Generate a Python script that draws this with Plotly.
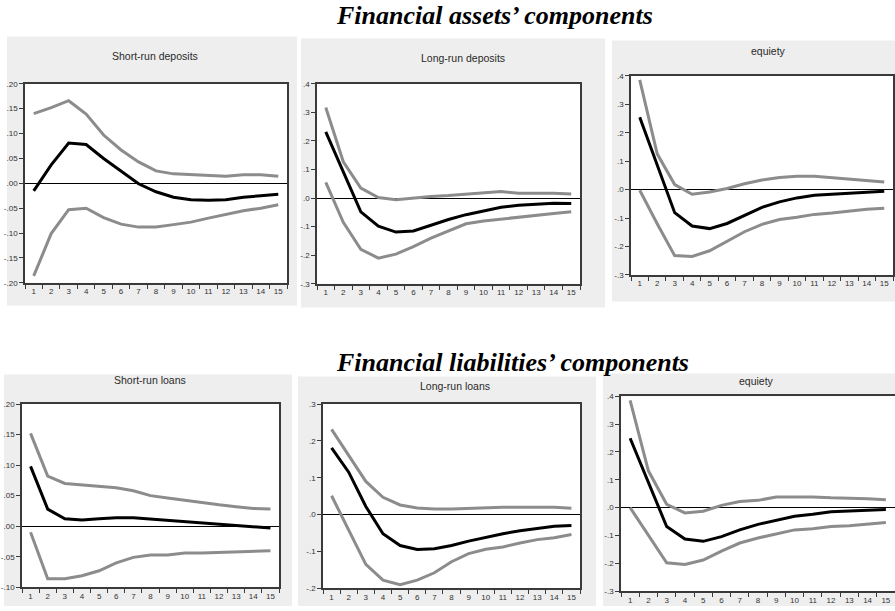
import plotly.graph_objects as go

W, H = 895, 611

periods = list(range(1, 16))
period_labels = [str(p) for p in periods]

# Impulse responses (point estimate with upper / lower bands)
srd_resp = [-0.015, 0.037, 0.081, 0.078, 0.050, 0.024, -0.001, -0.017, -0.028, -0.033, -0.034, -0.033, -0.028, -0.025, -0.022]
srd_upper = [0.140, 0.152, 0.166, 0.139, 0.097, 0.067, 0.043, 0.025, 0.019, 0.017, 0.0145, 0.014, 0.017, 0.017, 0.014]
srd_lower = [-0.186, -0.101, -0.053, -0.050, -0.069, -0.082, -0.088, -0.088, -0.083, -0.078, -0.070, -0.062, -0.055, -0.050, -0.043]

lrd_resp = [0.232, 0.092, -0.048, -0.098, -0.119, -0.115, -0.094, -0.075, -0.058, -0.044, -0.032, -0.025, -0.021, -0.018, -0.019]
lrd_upper = [0.317, 0.127, 0.035, 0.002, -0.006, 0.000, 0.006, 0.009, 0.014, 0.017, 0.023, 0.017, 0.017, 0.017, 0.014]
lrd_lower = [0.055, -0.085, -0.179, -0.210, -0.196, -0.170, -0.140, -0.115, -0.090, -0.080, -0.073, -0.066, -0.061, -0.054, -0.048]

eqa_resp = [0.255, 0.085, -0.081, -0.128, -0.137, -0.119, -0.090, -0.062, -0.043, -0.029, -0.020, -0.016, -0.012, -0.008, -0.006]
eqa_upper = [0.386, 0.126, 0.018, -0.016, -0.008, 0.004, 0.021, 0.034, 0.043, 0.047, 0.047, 0.042, 0.036, 0.032, 0.027]
eqa_lower = [-0.002, -0.120, -0.232, -0.235, -0.215, -0.180, -0.148, -0.122, -0.105, -0.097, -0.087, -0.082, -0.075, -0.069, -0.065]

srl_resp = [0.098, 0.028, 0.012, 0.010, 0.012, 0.014, 0.014, 0.012, 0.010, 0.0075, 0.005, 0.003, 0.001, -0.001, -0.003]
srl_upper = [0.152, 0.082, 0.070, 0.068, 0.066, 0.063, 0.058, 0.050, 0.046, 0.042, 0.039, 0.035, 0.032, 0.029, 0.028]
srl_lower = [-0.010, -0.086, -0.086, -0.081, -0.073, -0.060, -0.051, -0.047, -0.047, -0.044, -0.044, -0.043, -0.041, -0.041, -0.040]

lrl_resp = [0.181, 0.115, 0.022, -0.052, -0.084, -0.095, -0.093, -0.084, -0.072, -0.061, -0.052, -0.044, -0.038, -0.032, -0.030]
lrl_upper = [0.231, 0.162, 0.090, 0.047, 0.026, 0.018, 0.015, 0.015, 0.017, 0.020, 0.020, 0.020, 0.020, 0.020, 0.017]
lrl_lower = [0.051, -0.043, -0.135, -0.178, -0.190, -0.178, -0.158, -0.128, -0.106, -0.094, -0.088, -0.077, -0.068, -0.063, -0.054]

eql_resp = [0.249, 0.091, -0.068, -0.113, -0.121, -0.104, -0.080, -0.060, -0.045, -0.031, -0.024, -0.015, -0.012, -0.009, -0.007]
eql_upper = [0.385, 0.132, 0.012, -0.019, -0.013, 0.008, 0.022, 0.026, 0.038, 0.038, 0.038, 0.035, 0.034, 0.032, 0.028]
eql_lower = [0.000, -0.098, -0.198, -0.204, -0.188, -0.156, -0.127, -0.109, -0.094, -0.080, -0.076, -0.068, -0.065, -0.060, -0.053]

# Y tick values and their labels
ticks_a = [0.20, 0.15, 0.10, 0.05, 0.00, -0.05, -0.10, -0.15, -0.20]
labels_a = [".20", ".15", ".10", ".05", ".00", "-.05", "-.10", "-.15", "-.20"]
ticks_b = [0.4, 0.3, 0.2, 0.1, 0.0, -0.1, -0.2, -0.3]
labels_b = [".4", ".3", ".2", ".1", ".0", "-.1", "-.2", "-.3"]
ticks_c = [0.20, 0.15, 0.10, 0.05, 0.00, -0.05, -0.10]
labels_c = [".20", ".15", ".10", ".05", ".00", "-.05", "-.10"]
ticks_d = [0.3, 0.2, 0.1, 0.0, -0.1, -0.2]
labels_d = [".3", ".2", ".1", ".0", "-.1", "-.2"]

group_titles = ["Financial assets\u2019 components", "Financial liabilities\u2019 components"]

panels = [
    dict(title="Short-run deposits", resp=srd_resp, up=srd_upper, lo=srd_lower,
         tv=ticks_a, tt=labels_a, yr=[-0.20, 0.20],
         box=(7, 33, 297, 306), plot=(25, 81, 287, 283), tpos=(155, 53)),
    dict(title="Long-run deposits", resp=lrd_resp, up=lrd_upper, lo=lrd_lower,
         tv=ticks_b, tt=labels_b, yr=[-0.3, 0.4],
         box=(301, 35, 605, 308), plot=(317, 81, 580, 284), tpos=(463, 55)),
    dict(title="equiety", resp=eqa_resp, up=eqa_upper, lo=eqa_lower,
         tv=ticks_b, tt=labels_b, yr=[-0.3, 0.4],
         box=(612, 37, 895, 302), plot=(631, 73, 893, 275), tpos=(768, 48)),
    dict(title="Short-run loans", resp=srl_resp, up=srl_upper, lo=srl_lower,
         tv=ticks_c, tt=labels_c, yr=[-0.10, 0.20],
         box=(4, 376, 292, 611), plot=(22, 406, 279, 592), tpos=(150, 382)),
    dict(title="Long-run loans", resp=lrl_resp, up=lrl_upper, lo=lrl_lower,
         tv=ticks_d, tt=labels_d, yr=[-0.2, 0.3],
         box=(298, 378, 596, 611), plot=(323, 406, 580, 593), tpos=(455, 388)),
    dict(title="equiety", resp=eql_resp, up=eql_upper, lo=eql_lower,
         tv=ticks_b, tt=labels_b, yr=[-0.3, 0.4],
         box=(603, 375, 895, 611), plot=(621, 398, 895, 596), tpos=(756, 383), open_right=True),
]

BAND = "#8c8c8c"
FRAME = "#3a3a3a"
TICKFONT = dict(family="Liberation Sans, Arial, sans-serif", size=8, color="#333333")

fig = go.Figure()
shapes = []
annotations = []
layout = {}

def px_x(v):
    return v / W

def px_y(v):
    return (H - v) / H

for i, p in enumerate(panels, start=1):
    sfx = "" if i == 1 else str(i)
    xa, ya = "x" + sfx, "y" + sfx

    # grey panel card, then the white plotting area on top of it
    bx0, by0, bx1, by1 = p["box"]
    shapes.append(dict(type="rect", xref="paper", yref="paper", layer="below",
                       x0=px_x(bx0), x1=px_x(bx1), y0=px_y(by1), y1=px_y(by0),
                       fillcolor="#eeeeee", line=dict(width=0)))
    px0, py0, px1, py1 = p["plot"]
    shapes.append(dict(type="rect", xref="paper", yref="paper", layer="below",
                       x0=px_x(px0), x1=px_x(px1), y0=px_y(py1), y1=px_y(py0),
                       fillcolor="white", line=dict(width=0)))

    for series, color in ((p["up"], BAND), (p["lo"], BAND), (p["resp"], "black")):
        fig.add_trace(go.Scatter(x=periods, y=series, mode="lines", xaxis=xa, yaxis=ya,
                                 line=dict(color=color, width=3), showlegend=False,
                                 hoverinfo="skip"))

    layout["xaxis" + sfx] = dict(
        domain=[px_x(px0), px_x(px1)], anchor=ya, range=[0.5, 15.5],
        tickmode="array", tickvals=periods, ticktext=period_labels, ticks="",
        tickfont=TICKFONT, showgrid=False, zeroline=False,
        showline=True, linecolor=FRAME, linewidth=1.5, mirror=True,
        minor=dict(tickmode="linear", tick0=0.5, dtick=1, ticks="outside",
                   ticklen=4, tickcolor=FRAME, tickwidth=1, showgrid=False),
        fixedrange=True,
    )
    layout["yaxis" + sfx] = dict(
        domain=[px_y(py1), px_y(py0)], anchor=xa, range=p["yr"],
        tickmode="array", tickvals=p["tv"], ticktext=p["tt"], ticks="outside",
        ticklen=4, tickcolor=FRAME, tickfont=TICKFONT, showgrid=False,
        zeroline=True, zerolinecolor="black", zerolinewidth=1,
        showline=True, linecolor=FRAME, linewidth=1.5,
        mirror=not p.get("open_right", False), fixedrange=True,
    )

    tx, ty = p["tpos"]
    annotations.append(dict(text=p["title"], xref="paper", yref="paper",
                            x=px_x(tx), y=px_y(ty), xanchor="center", yanchor="middle",
                            showarrow=False,
                            font=dict(family="Liberation Sans, Arial, sans-serif",
                                      size=10.5, color="#2a2a2a")))

for text, ty in zip(group_titles, (12, 364)):
    annotations.append(dict(text="<b><i>" + text + "</i></b>", xref="paper", yref="paper",
                            x=px_x(334), y=px_y(ty), xanchor="left", yanchor="middle",
                            showarrow=False,
                            font=dict(family="Liberation Serif, Times New Roman, serif",
                                      size=26, color="black")))

fig.update_layout(
    width=W, height=H, margin=dict(l=0, r=0, t=0, b=0),
    paper_bgcolor="white", plot_bgcolor="rgba(0,0,0,0)",
    shapes=shapes, annotations=annotations, showlegend=False,
    **layout,
)

fig.write_html("out.html", config={"displayModeBar": False})
